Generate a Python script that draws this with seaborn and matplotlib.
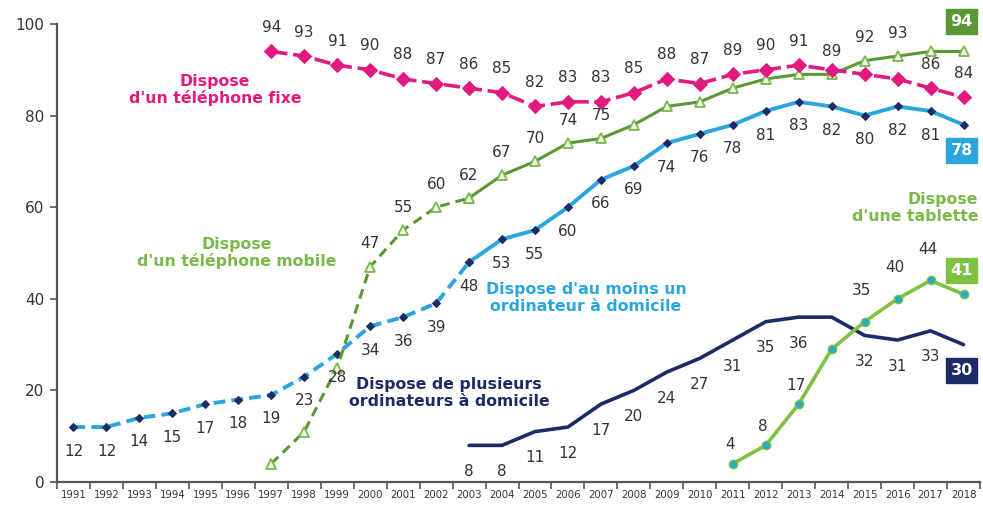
import matplotlib
matplotlib.use("Agg")
import matplotlib.pyplot as plt
import seaborn as sns
import pandas as pd
import numpy as np

# ---------------- data ----------------
years_fixe = list(range(1997, 2019))
fixe = [94, 93, 91, 90, 88, 87, 86, 85, 82, 83, 83, 85, 88, 87, 89, 90, 91, 90, 89, 88, 86, 84]

years_mobile = list(range(1997, 2019))
mobile = [4, 11, 25, 47, 55, 60, 62, 67, 70, 74, 75, 78, 82, 83, 86, 88, 89, 89, 92, 93, 94, 94]

years_ordi = list(range(1991, 2019))
ordi = [12, 12, 14, 15, 17, 18, 19, 23, 28, 34, 36, 39, 48, 53, 55, 60, 66, 69, 74, 76,
        78, 81, 83, 82, 80, 82, 81, 78]

years_plus = list(range(2003, 2019))
plusieurs = [8, 8, 11, 12, 17, 20, 24, 27, 31, 35, 36, 36, 32, 31, 33, 30]

years_tab = list(range(2011, 2019))
tablette = [4, 8, 17, 29, 35, 40, 44, 41]

x_ticks = list(range(1991, 2019))

# which years carry a visible value label
lab_fixe = list(range(1997, 2014)) + [2017, 2018]
lab_mobile = [2000, 2001, 2002, 2003, 2004, 2005, 2006, 2007, 2014, 2015, 2016]
lab_ordi = list(range(1991, 2018))
lab_plus = list(range(2003, 2014)) + [2015, 2016, 2017]
lab_tab = [2011, 2012, 2013, 2015, 2016, 2017]

# ---------------- style ----------------
PINK = "#E2197E"
GREEN_D = "#5B9734"
GREEN_T = "#78B94A"
BLUE = "#29A6E0"
NAVY = "#1C2B66"
LIME = "#7DC242"
TEAL = "#2AA9C9"
TXT = "#333333"

sns.set_theme(style="white")
plt.rcParams["font.family"] = ["DejaVu Sans"]

fig = plt.figure(figsize=(9.83, 5.05), dpi=100)
ax = fig.add_axes([57 / 983, 23 / 505, 923 / 983, 458 / 505])

def seg(xs, ys, lo, hi):
    d = pd.DataFrame({"x": xs, "y": ys})
    return d[(d.x >= lo) & (d.x <= hi)]

# blue: at least one computer
d = seg(years_ordi, ordi, 1991, 2003)
sns.lineplot(data=d, x="x", y="y", ax=ax, color=BLUE, lw=2.8, linestyle=(0, (3.0, 1.6)),
             marker="D", markersize=4.5, markerfacecolor=NAVY, markeredgecolor=NAVY)
d = seg(years_ordi, ordi, 2003, 2018)
sns.lineplot(data=d, x="x", y="y", ax=ax, color=BLUE, lw=2.8,
             marker="D", markersize=4.5, markerfacecolor=NAVY, markeredgecolor=NAVY)

# navy: several computers
d = seg(years_plus, plusieurs, 2003, 2018)
sns.lineplot(data=d, x="x", y="y", ax=ax, color=NAVY, lw=2.6)

# tablet
d = seg(years_tab, tablette, 2011, 2018)
sns.lineplot(data=d, x="x", y="y", ax=ax, color=LIME, lw=2.6,
             marker="o", markersize=6, markerfacecolor=TEAL, markeredgecolor=LIME, markeredgewidth=1)

# mobile
d = seg(years_mobile, mobile, 1997, 2003)
sns.lineplot(data=d, x="x", y="y", ax=ax, color=GREEN_D, lw=2.2, linestyle=(0, (3.2, 2.0)),
             marker="^", markersize=7, markerfacecolor="#EEF6E6", markeredgecolor=GREEN_T, markeredgewidth=1.3)
d = seg(years_mobile, mobile, 2003, 2018)
sns.lineplot(data=d, x="x", y="y", ax=ax, color=GREEN_D, lw=2.2,
             marker="^", markersize=7, markerfacecolor="#EEF6E6", markeredgecolor=GREEN_T, markeredgewidth=1.3)

# fixed phone
d = seg(years_fixe, fixe, 1997, 2018)
sns.lineplot(data=d, x="x", y="y", ax=ax, color=PINK, lw=2.6, linestyle=(0, (4.5, 1.6)),
             marker="D", markersize=6.8, markerfacecolor=PINK, markeredgecolor=PINK)

# ---------------- value labels ----------------
def labels(xs, ys, which, dy, dx=0, size=11):
    for xv, yv in zip(xs, ys):
        if xv in which:
            ax.annotate(str(yv), (xv, yv), xytext=(dx, dy), textcoords="offset pixels",
                        ha="center", va="center", fontsize=size, color=TXT, annotation_clip=False)

labels(years_fixe, fixe, lab_fixe, 24)
labels(years_mobile, mobile, lab_mobile, 23)
labels(years_ordi, ordi, lab_ordi, -24)
labels(years_plus, plusieurs, lab_plus, -26)
for xv, yv in zip(years_tab, tablette):
    if xv in lab_tab:
        dy = 19 if xv < 2014 else 31
        ax.annotate(str(yv), (xv, yv), xytext=(-3, dy), textcoords="offset pixels",
                    ha="center", va="center", fontsize=11, color=TXT, annotation_clip=False)

def box(xv, yv, dy, col):
    ax.annotate(str(yv), (xv, yv), xytext=(-2, dy), textcoords="offset pixels",
                ha="center", va="center", fontsize=11.5, fontweight="bold", color="white",
                annotation_clip=False,
                bbox=dict(boxstyle="square,pad=0.3", fc=col, ec=col))

box(years_mobile[-1], mobile[-1], 30, GREEN_D)
box(years_ordi[-1], ordi[-1], -26, BLUE)
box(years_tab[-1], tablette[-1], 24, LIME)
box(years_plus[-1], plusieurs[-1], -26, NAVY)

# ---------------- series names ----------------
def name(xp, yp, s, col, ha="center"):
    fig.text(xp / 983, 1 - yp / 505, s, color=col, fontsize=11.3, fontweight="bold",
             ha=ha, va="center", multialignment=ha, linespacing=1.1)

name(215, 90, "Dispose\nd'un téléphone fixe", PINK)
name(237, 253, "Dispose\nd'un téléphone mobile", GREEN_T)
name(586, 298, "Dispose d'au moins un\nordinateur à domicile", BLUE)
name(449, 393, "Dispose de plusieurs\nordinateurs à domicile", NAVY)
name(978, 208, "Dispose\nd'une tablette", GREEN_T, ha="right")

# ---------------- axes ----------------
ax.set_xlim(1990.5, 2018.5)
ax.set_ylim(0, 100)
ax.set_yticks([0, 20, 40, 60, 80, 100])
ax.set_yticklabels(["0", "20", "40", "60", "80", "100"], fontsize=11, color=TXT)
ax.set_xticks(x_ticks)
ax.set_xticklabels([str(v) for v in x_ticks], fontsize=7.3, color=TXT,
                   family=["Liberation Sans Narrow", "DejaVu Sans"])
ax.set_xticks(np.arange(1990.5, 2019, 1.0), minor=True)
ax.tick_params(axis="x", which="major", length=0, pad=6)
ax.tick_params(axis="x", which="minor", length=5, width=1.2, color="#555555", direction="out", bottom=True)
ax.tick_params(axis="y", length=5, width=1.2, color="#555555", direction="out", left=True, pad=4)
ax.set_xlabel("")
ax.set_ylabel("")
for s in ["top", "right"]:
    ax.spines[s].set_visible(False)
for s in ["left", "bottom"]:
    ax.spines[s].set_color("#555555")
    ax.spines[s].set_linewidth(1.6)
ax.grid(False)

fig.savefig("out.png", dpi=100)
